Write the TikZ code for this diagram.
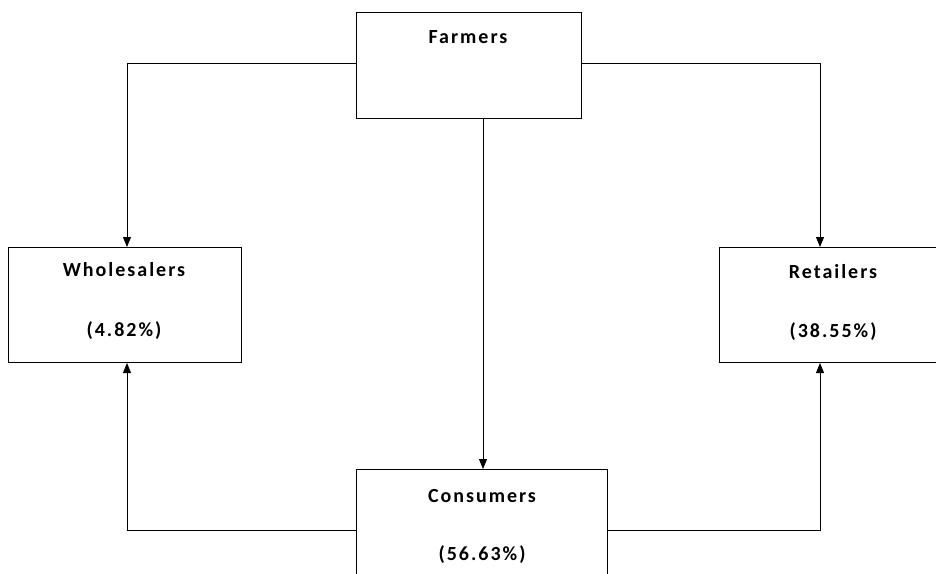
\documentclass[tikz,border=0pt]{standalone}
\usepackage{fontspec}
\setmainfont{Carlito}
\usetikzlibrary{arrows.meta}
\tikzset{
  box/.style={draw, line width=1pt, inner sep=0pt, anchor=north west},
  lbl/.style={font=\fontsize{20}{24}\selectfont\bfseries\addfontfeature{LetterSpace=10}, inner sep=0pt, anchor=center},
  conn/.style={line width=0.9pt, -{Triangle[length=10pt,width=8pt]}},
}
\begin{document}
\begin{tikzpicture}[x=1pt,y=-1pt]
\useasboundingbox (0,0) rectangle (936,573);
\clip (0,0) rectangle (936,573);
\node[box, minimum width=225pt, minimum height=106pt] (farm) at (356,12) {};
\node[box, minimum width=233pt, minimum height=115pt] (whole) at (8,247) {};
\node[box, minimum width=228pt, minimum height=115pt] (retail) at (719,247) {};
\node[box, minimum width=251pt, minimum height=140pt] (cons) at (356,469) {};
\node[lbl] (tfarm) at (468,37) {Farmers};
\node[lbl] (twhole) at (124,270) {Wholesalers};
\node[lbl] (pwhole) at (124,331) {(4.82\%)};
\node[lbl] (tretail) at (833,272) {Retailers};
\node[lbl] (pretail) at (833,332) {(38.55\%)};
\node[lbl] (tcons) at (482,496) {Consumers};
\node[lbl] (pcons) at (482,555) {(56.63\%)};
\coordinate (fl) at (farm.west |- 0,63);
\coordinate (fr) at (farm.east |- 0,63);
\draw[conn] (farm.west |- fl) -| (whole.north -| 127,0);
\draw[conn] (farm.east |- fr) -| (retail.north -| 820,0);
\draw[conn] (farm.south -| 483,0) -- (cons.north -| 483,0);
\draw[conn] (cons.west |- 0,530) -| (whole.south -| 127,0);
\draw[conn] (cons.east |- 0,530) -| (retail.south -| 820,0);
\end{tikzpicture}
\end{document}
